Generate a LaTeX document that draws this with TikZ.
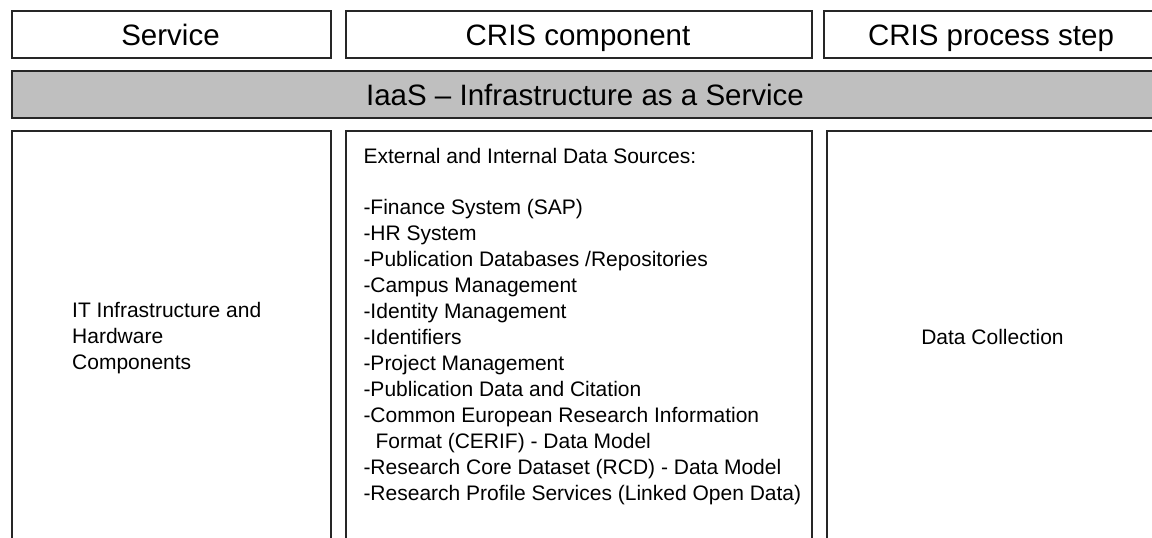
\documentclass[tikz,border=0pt]{standalone}
\usepackage{fontspec}
\setmainfont{Liberation Sans}
\tikzset{
  cellbox/.style={draw=black!85,line width=1.6pt,rectangle,anchor=north west,inner sep=0pt},
  headtext/.style={anchor=base,inner sep=0pt,font=\fontsize{29.5}{35}\selectfont},
  bodytext/.style={anchor=base west,inner sep=0pt,align=left,font=\fontsize{21}{26}\selectfont},
}
\begin{document}
\begin{tikzpicture}[x=1pt,y=-1pt]
        \useasboundingbox (0,0) rectangle (1152,538);
        \clip (0,0) rectangle (1152,538);
        %% Header row
        \node[cellbox,minimum width=319pt,minimum height=47pt] (service) at (11,10) {};
        \node[cellbox,minimum width=466pt,minimum height=47pt] (component) at (345,10) {};
        \node[cellbox,minimum width=336pt,minimum height=47pt] (step) at (823,10) {};
        \node[headtext] (servicetext) at (170.5,45.7) {Service};
        \node[headtext] (componenttext) at (578,45.7) {CRIS component};
        \node[headtext] (steptext) at (991,45.7) {CRIS process step};
        %% IaaS bar
        \node[cellbox,fill=black!25,minimum width=1148pt,minimum height=47pt] (iaas) at (11,70) {};
        \node[headtext] (iaastext) at (585,105.7) {IaaS – Infrastructure as a Service};
        %% Content row (base anchor sits on the last line)
        \node[cellbox,minimum width=319pt,minimum height=430pt] (hardware) at (11,130) {};
        \node[cellbox,minimum width=466pt,minimum height=430pt] (sources) at (345,130) {};
        \node[cellbox,minimum width=333pt,minimum height=430pt] (collection) at (826,130) {};
        \node[bodytext] (hardwaretext) at (72,369.7) {IT Infrastructure and\\Hardware\\Components};
        \node[bodytext] (sourcestext) at (363.3,500.7) {External and Internal Data Sources:\\[25pt]
          -Finance System (SAP)\\
          -HR System\\
          -Publication Databases /Repositories\\
          -Campus Management\\
          -Identity Management\\
          -Identifiers\\
          -Project Management\\
          -Publication Data and Citation\\
          -Common European Research Information\\
          \hspace*{12pt}Format (CERIF) - Data Model\\
          -Research Core Dataset (RCD) - Data Model\\
          -Research Profile Services (Linked Open Data)};
        \node[bodytext,anchor=base] (collectiontext) at (992.5,344.3) {Data Collection};
    \end{tikzpicture}
\end{document}
